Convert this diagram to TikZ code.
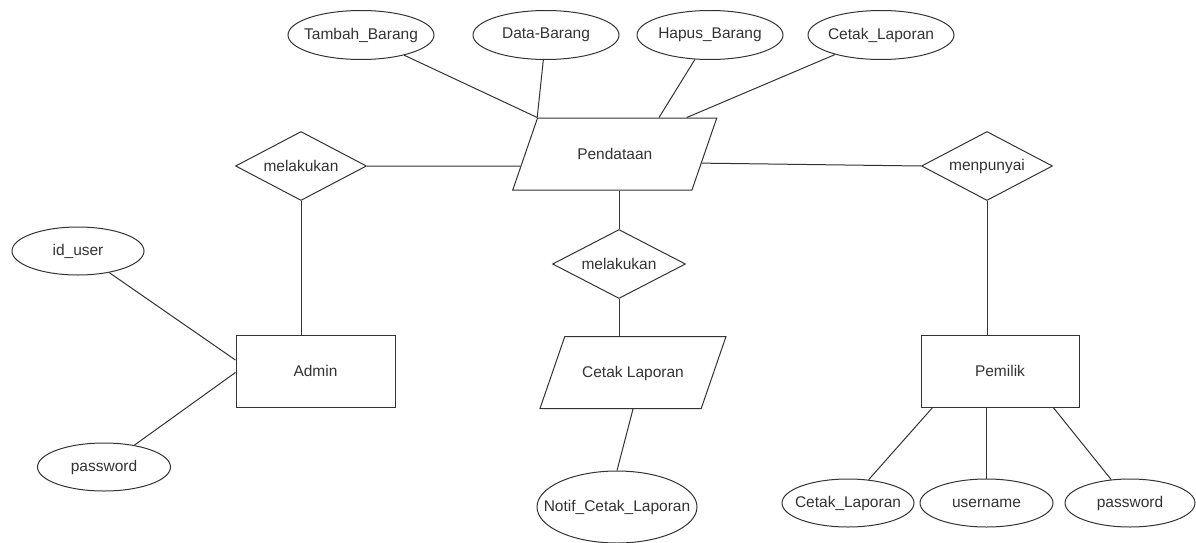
\documentclass[tikz,border=0pt]{standalone}
\usepackage{fontspec}
\setmainfont{Liberation Sans}
\usetikzlibrary{shapes.geometric,calc}
\definecolor{ink}{HTML}{333333}
\newcommand{\lbl}[1]{\makebox[0pt]{#1}}
\tikzset{
    attr/.style={draw=ink, ellipse, inner sep=0pt, minimum width=146pt, minimum height=49pt},
    rel/.style={draw=ink, diamond, inner sep=0pt, minimum width=131pt, minimum height=69pt},
    ent/.style={draw=ink, rectangle, inner sep=0pt, minimum width=158pt, minimum height=72pt},
    proc/.style={draw=ink, trapezium, trapezium left angle=71, trapezium right angle=109,
        trapezium stretches body, inner sep=0pt, text height=41pt, text depth=31pt},
    link/.style={draw=ink},
}

\begin{document}
\begin{tikzpicture}[x=1pt, y=-1pt, line width=1pt,
        every node/.style={text=ink, font=\fontsize{15.5}{18}\selectfont}]
    \useasboundingbox (0,0) rectangle (1196,543);
    % attributes of Pendataan
    \node[attr] (tambah) at (361,35) {\lbl{Tambah\_Barang}};
    \node[attr] (data) at (546,35) {\lbl{Data-Barang}};
    \node[attr] (hapus) at (710,35) {\lbl{Hapus\_Barang}};
    \node[attr] (cetaktop) at (881,35) {\lbl{Cetak\_Laporan}};
    \node[proc, minimum width=204pt] (pend) at (614.75,154) {Pendataan};
    % relations
    \node[rel] (relkiri) at (301,166) {\lbl{melakukan}};
    \node[rel, minimum width=133pt] (reltengah) at (619,264) {\lbl{melakukan}};
    \node[rel] (relkanan) at (987,166) {\lbl{menpunyai}};
    % entities
    \node[ent, minimum width=159pt] (admin) at (315.5,371) {Admin};
    \node[proc, minimum width=186pt] (cetak) at (633,372.5) {Cetak Laporan};
    \node[ent] (pemilik) at (1000,371) {Pemilik};
    % attributes
    \node[attr, minimum width=132pt, minimum height=48pt] (iduser) at (78,251) {\lbl{id\_user}};
    \node[attr, minimum width=133pt, minimum height=48pt] (pwadmin) at (104,467) {\lbl{password}};
    \node[attr, minimum width=160pt, minimum height=72pt] (notif) at (617,507) {\lbl{Notif\_Cetak\_Laporan}};
    \node[attr, minimum width=132pt, minimum height=48pt] (cetakbawah) at (848,503) {\lbl{Cetak\_Laporan}};
    \node[attr, minimum width=133pt, minimum height=48pt] (username) at (986.5,503) {\lbl{username}};
    \node[attr, minimum width=130pt, minimum height=48pt] (pwpemilik) at (1130,503) {\lbl{password}};

    \draw[link] (tambah) -- (pend.top left corner);
    \draw[link] (data) -- (pend.top left corner);
    \draw[link] (hapus) -- ($(pend.top left corner)!0.676!(pend.top right corner)$);
    \draw[link] (cetaktop) -- ($(pend.top left corner)!0.83!(pend.top right corner)$);
    \draw[link] (relkiri.east) -- ($(pend.bottom left corner)!0.333!(pend.top left corner)$);
    \draw[link] ($(pend.bottom right corner)!0.375!(pend.top right corner)$) -- (relkanan.west);
    \draw[link] (reltengah.north |- pend.south) -- (reltengah.north);
    \draw[link] (reltengah.south) -- (reltengah.south |- cetak.north);
    \draw[link] (cetak.south) -- (notif.north);
    \draw[link] (relkiri.south) -- (relkiri.south |- admin.north);
    \draw[link] (iduser) -- ($(admin.north west)!0.35!(admin.south west)$);
    \draw[link] (pwadmin) -- ($(admin.north west)!0.52!(admin.south west)$);
    \draw[link] (relkanan.south) -- (relkanan.south |- pemilik.north);
    \draw[link] ($(pemilik.south west)!0.076!(pemilik.south east)$) -- (cetakbawah);
    \draw[link] (username.north |- pemilik.south) -- (username.north);
    \draw[link] ($(pemilik.south west)!0.835!(pemilik.south east)$) -- (pwpemilik);
\end{tikzpicture}
\end{document}
